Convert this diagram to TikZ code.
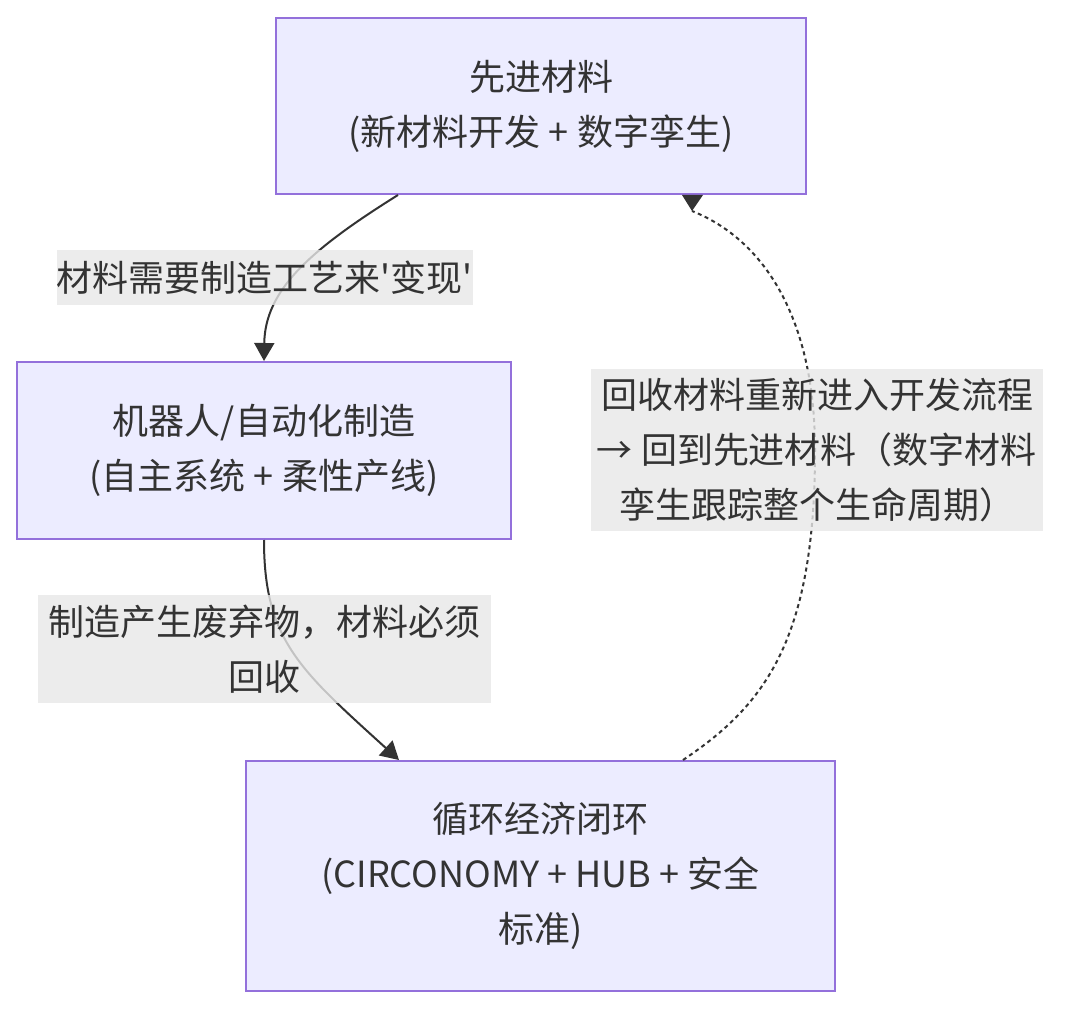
\documentclass[tikz,border=0pt]{standalone}
\usepackage{fontspec}
\setmainfont{Noto Sans CJK SC}
\usetikzlibrary{arrows.meta}
\definecolor{txt}{HTML}{333333}
\definecolor{edgecol}{HTML}{333333}
\definecolor{boxline}{HTML}{9370DB}
\definecolor{boxfill}{HTML}{ECECFF}
\definecolor{lblfill}{HTML}{E8E8E8}
\begin{document}
\begin{tikzpicture}[x=1pt,y=-1pt,
  every node/.style={font=\fontsize{36}{55}\selectfont, text=txt, align=center, inner sep=0pt},
  flowbox/.style={draw=boxline, fill=boxfill, line width=2pt},
  edgelabel/.style={fill=lblfill, fill opacity=0.8, text opacity=1},
  flowedge/.style={draw=edgecol, line width=2pt, -{Triangle[length=18pt,width=20pt]}},
  dashedge/.style={draw=edgecol, line width=2pt, dash pattern=on 4pt off 3.5pt}
]
\useasboundingbox (0,0) rectangle (1080,1027);
\fill[white] (0,0) rectangle (1080,1027);

% boxes
\node[flowbox, minimum width=530pt, minimum height=176pt] (A) at (541,106) {先进材料\\(新材料开发 + 数字孪生)};
\node[flowbox, minimum width=494pt, minimum height=177pt] (B) at (264,450.5) {机器人/自动化制造\\(自主系统 + 柔性产线)};
\node[flowbox, minimum width=589pt, minimum height=230pt] (C) at (540.5,876) {循环经济闭环\\(CIRCONOMY + HUB + 安全\\标准)};

% edges
\draw[flowedge] ([xshift=-143pt]A.south) .. controls (310,250) and (265,290) .. (B.north);
\draw[flowedge] (B.south) .. controls (264,640) and (300,670) .. ([xshift=-141.5pt]C.north);
\coordinate (Dtip) at (692,211);
\draw[dashedge] ([xshift=142.5pt]C.north) .. controls (765,705) and (815,640) .. (815,450)
   .. controls (815,320) and (765,240) .. (Dtip);
\fill[edgecol] ([xshift=141pt]A.south) -- ([xshift=162pt]A.south) -- (Dtip) -- cycle;

% labels
\node[edgelabel, minimum width=410pt, minimum height=55pt] (L1) at (265,277.5) {材料需要制造工艺来\textquotesingle 变现\textquotesingle};
\node[edgelabel, minimum width=453pt, minimum height=108pt] (L2) at (264.5,649) {制造产生废弃物，材料必须\\回收};
\node[edgelabel, minimum width=452pt, minimum height=162pt] (L3) at (817,450) {回收材料重新进入开发流程\\→ 回到先进材料（数字材料\\孪生跟踪整个生命周期）};
\end{tikzpicture}
\end{document}
